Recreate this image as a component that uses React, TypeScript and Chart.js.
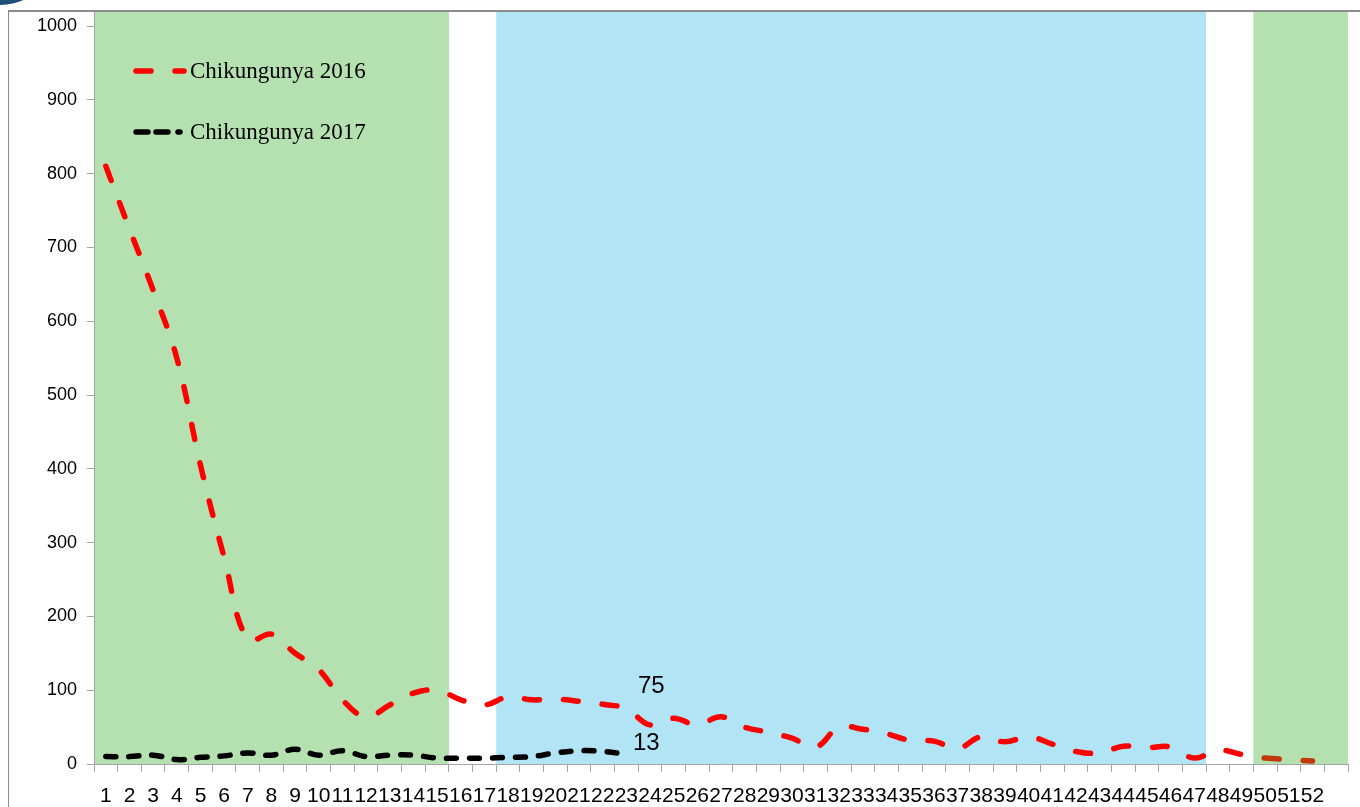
import { useEffect, useRef } from 'react';
import { Chart, registerables } from 'chart.js';

Chart.register(...registerables);

const WEEK_LABELS = [
  '1', '2', '3', '4', '5', '6', '7', '8', '9', '10', '11', '12', '13', '14', '15', '16', '17', '18',
  '19', '20', '21', '22', '23', '24', '25', '26', '27', '28', '29', '30', '31', '32', '33', '34', '35',
  '36', '37', '38', '39', '40', '41', '42', '43', '44', '45', '46', '47', '48', '49', '50', '51', '52', '',
];

const CHIK_2016 = [
  810, 725, 642, 550, 405, 280, 168, 176, 150, 128, 87, 64, 80, 96, 100, 87, 80, 91, 87, 88, 85, 81,
  75, 53, 62, 53, 64, 50, 43, 35, 23, 50, 47, 41, 32, 31, 21, 37, 30, 37, 27, 17, 15, 24, 22, 23, 8,
  19, 13, 8, 6, 4,
];

const CHIK_2017 = [10, 10, 12, 6, 9, 11, 15, 12, 20, 12, 18, 10, 12, 12, 8, 8, 8, 9, 10, 15, 18, 17, 13];

const SERIES_NAMES = ['Chikungunya 2016', 'Chikungunya 2017'];
const SERIES_COLORS = ['#FF0000', '#000000'];
const SERIES_DASH = [[15, 24], [10, 13]];

const Y_MIN = 0;
const Y_MAX = 1019;
const Y_STEP = 100;

const SEASON_FIRST_WEEK = [1, 18, 50];
const SEASON_LAST_WEEK = [15, 47, 53];
const SEASON_COLORS = ['#B5E1B1', '#B1E5F6', '#B5E1B1'];
const LATE_SEASON_LINE = '#C03A0C';

const ANNOTATED_WEEK = 23;

const seasonPlugin = {
  id: 'seasons',
  beforeDraw(chart: any) {
    const { ctx, chartArea, scales } = chart;
    const xs = scales.x;
    ctx.save();
    for (let i = 0; i < SEASON_FIRST_WEEK.length; i++) {
      let x1 = xs.getPixelForValue(SEASON_FIRST_WEEK[i] - 1.5);
      let x2 = xs.getPixelForValue(SEASON_LAST_WEEK[i] - 0.5);
      x1 = Math.max(x1, chartArea.left + 1);
      x2 = Math.min(x2, chartArea.right + 1);
      ctx.fillStyle = SEASON_COLORS[i];
      ctx.fillRect(x1, chartArea.top, x2 - x1, chartArea.bottom - chartArea.top);
    }
    ctx.restore();
  },
};

const labelPlugin = {
  id: 'pointLabels',
  afterDatasetsDraw(chart: any) {
    const { ctx } = chart;
    const offsets = [
      [25, -22],
      [20, -11],
    ];
    ctx.save();
    ctx.font = "24px 'Liberation Sans', Arial, sans-serif";
    ctx.fillStyle = '#000';
    ctx.textAlign = 'center';
    ctx.textBaseline = 'middle';
    for (let d = 0; d < 2; d++) {
      const meta = chart.getDatasetMeta(d);
      const el = meta.data[ANNOTATED_WEEK - 1];
      if (!el) continue;
      const v = chart.data.datasets[d].data[ANNOTATED_WEEK - 1];
      ctx.fillText(String(v), el.x + offsets[d][0], el.y + offsets[d][1]);
    }
    ctx.restore();
  },
};

const legendPlugin = {
  id: 'insideLegend',
  afterDraw(chart: any) {
    const { ctx } = chart;
    const rows = [71, 132];
    ctx.save();
    for (let i = 0; i < SERIES_NAMES.length; i++) {
      const y = rows[i];
      ctx.beginPath();
      ctx.strokeStyle = SERIES_COLORS[i];
      ctx.lineWidth = 5.5;
      ctx.lineCap = 'round';
      ctx.setLineDash(i === 0 ? [15, 24] : [12, 8, 12, 10, 2, 20]);
      ctx.moveTo(136, y);
      ctx.lineTo(184, y);
      ctx.stroke();
      ctx.setLineDash([]);
      ctx.font = "23px 'Liberation Serif', 'Times New Roman', serif";
      ctx.fillStyle = '#000';
      ctx.textAlign = 'left';
      ctx.textBaseline = 'alphabetic';
      ctx.fillText(SERIES_NAMES[i], 190, y + 7);
    }
    ctx.restore();
  },
};

function lineColor2016(c: any) {
  const chart = c.chart;
  const area = chart.chartArea;
  const xs = chart.scales && chart.scales.x;
  if (!area || !xs) return SERIES_COLORS[0];
  const bx = xs.getPixelForValue(SEASON_FIRST_WEEK[2] - 1.5);
  const frac = Math.min(Math.max((bx - area.left) / (area.right - area.left), 0), 1);
  const g = chart.ctx.createLinearGradient(area.left, 0, area.right, 0);
  g.addColorStop(0, SERIES_COLORS[0]);
  g.addColorStop(Math.max(frac - 0.0001, 0), SERIES_COLORS[0]);
  g.addColorStop(frac, LATE_SEASON_LINE);
  g.addColorStop(1, LATE_SEASON_LINE);
  return g;
}

export default function App() {
  const canvasRef = useRef<HTMLCanvasElement | null>(null);

  useEffect(() => {
    if (!canvasRef.current) return;
    const axisGray = '#A6A6A6';
    const chart = new Chart(canvasRef.current, {
      type: 'line',
      data: {
        labels: WEEK_LABELS,
        datasets: [
          {
            label: SERIES_NAMES[0],
            data: CHIK_2016,
            borderColor: lineColor2016 as any,
            borderWidth: 5.5,
            borderDash: SERIES_DASH[0],
            borderCapStyle: 'round',
            borderJoinStyle: 'round',
            pointRadius: 0,
            pointHoverRadius: 0,
            tension: 0.4,
            fill: false,
          },
          {
            label: SERIES_NAMES[1],
            data: CHIK_2017,
            borderColor: SERIES_COLORS[1],
            borderWidth: 5.5,
            borderDash: SERIES_DASH[1],
            borderCapStyle: 'round',
            borderJoinStyle: 'round',
            pointRadius: 0,
            pointHoverRadius: 0,
            tension: 0.4,
            fill: false,
          },
        ],
      },
      options: {
        responsive: false,
        animation: false,
        events: [],
        layout: { padding: { top: 12, right: 12, left: 0, bottom: 0 } },
        plugins: {
          legend: { display: false },
          tooltip: { enabled: false },
        },
        scales: {
          x: {
            type: 'category',
            offset: true,
            grid: {
              offset: true,
              drawOnChartArea: false,
              drawTicks: true,
              tickLength: 8,
              color: axisGray,
            },
            border: { display: true, color: axisGray, width: 1 },
            ticks: {
              autoSkip: false,
              maxRotation: 0,
              minRotation: 0,
              padding: 12,
              color: '#000',
              font: { family: "'Liberation Sans', Arial, sans-serif", size: 21 },
            },
            afterFit(scale: any) {
              scale.height = 43;
              scale.paddingLeft = 0;
              scale.paddingRight = 0;
            },
          },
          y: {
            min: Y_MIN,
            max: Y_MAX,
            grid: {
              drawOnChartArea: false,
              drawTicks: true,
              tickLength: 7,
              color: axisGray,
            },
            border: { display: true, color: axisGray, width: 1 },
            ticks: {
              stepSize: Y_STEP,
              includeBounds: false,
              padding: 10,
              color: '#000',
              font: { family: "'Liberation Sans', Arial, sans-serif", size: 18 },
              callback: (v: any) => String(v),
            },
            afterFit(scale: any) {
              scale.width = 94;
              scale.paddingTop = 0;
              scale.paddingBottom = 0;
            },
          },
        },
      },
      plugins: [seasonPlugin, labelPlugin, legendPlugin],
    } as any);
    return () => chart.destroy();
  }, []);

  return (
    <div style={{ position: 'absolute', left: 0, top: 0, width: 1360, height: 807, overflow: 'hidden', background: '#fff' }}>
      <div
        style={{
          position: 'absolute',
          left: 8,
          top: 10,
          width: 1400,
          height: 900,
          borderLeft: '1px solid #8C8C8C',
          borderTop: '2px solid #8C8C8C',
        }}
      />
      <div
        style={{
          position: 'absolute',
          left: -40,
          top: -40,
          width: 78,
          height: 45,
          borderRadius: '50%',
          background: '#1F4E79',
        }}
      />
      <canvas ref={canvasRef} width={1360} height={807} style={{ position: 'absolute', left: 0, top: 0 }} />
    </div>
  );
}
